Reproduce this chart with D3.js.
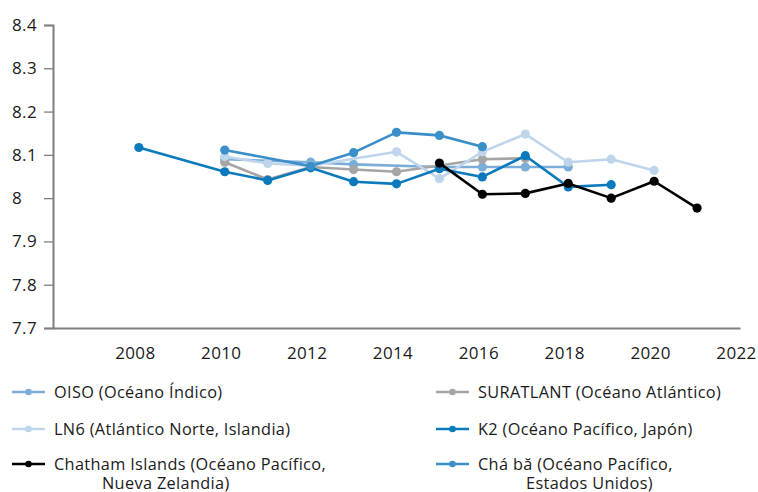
<!DOCTYPE html>
<html>
<head>
<meta charset="utf-8">
<script src="https://cdn.jsdelivr.net/npm/d3@7"></script>
<style>
  html, body { margin: 0; padding: 0; background: #fff; }
  svg { display: block; }
  text { font-family: "Open Sans", "Noto Sans", sans-serif; fill: #1a1a1a; letter-spacing: 0.35px; }
</style>
</head>
<body>
<svg id="chart" width="758" height="492"></svg>
<script>
// pH time series by monitoring station
const years = [2008, 2010, 2011, 2012, 2013, 2014, 2015, 2016, 2017, 2018, 2019, 2020, 2021];
const yTicks = [7.7, 7.8, 7.9, 8.0, 8.1, 8.2, 8.3, 8.4];
const xTicks = [2008, 2010, 2012, 2014, 2016, 2018, 2020, 2022];

// values aligned with `years`; null = no measurement
const oiso      = [null, 8.090, null,  8.083, 8.078, null,  8.072, 8.072, 8.072, 8.072, null,  null,  null];
const suratlant = [null, 8.083, 8.043, 8.072, 8.066, 8.061, null,  8.090, 8.092, null,  null,  null,  null];
const ln6       = [null, 8.096, 8.080, 8.075, null,  8.107, 8.045, 8.107, 8.148, 8.083, 8.090, 8.064, null];
const k2        = [8.117, 8.061, 8.041, 8.070, 8.038, 8.033, 8.068, 8.049, 8.098, 8.026, 8.031, null, null];
const chatham   = [null, null,  null,  null,  null,  null,  8.081, 8.009, 8.011, 8.034, 8.000, 8.039, 7.977];
const chaba     = [null, 8.111, null,  8.074, 8.105, 8.152, 8.145, 8.119, null,  null,  null,  null,  null];

const seriesNames = [
  ["OISO (Océano Índico)"],
  ["SURATLANT (Océano Atlántico)"],
  ["LN6 (Atlántico Norte, Islandia)"],
  ["K2 (Océano Pacífico, Japón)"],
  ["Chatham Islands (Océano Pacífico,", "Nueva Zelandia)"],
  ["Chá bă (Océano Pacífico,", "Estados Unidos)"]
];
const seriesValues = [oiso, suratlant, ln6, k2, chatham, chaba];
const seriesColors = ["#7badd9", "#a5a5a5", "#bfd5ec", "#0a7abd", "#000000", "#3b8fc8"];

const svg = d3.select("#chart");

const x = d3.scaleLinear().domain([2006, 2022]).range([53, 740]);
const y = d3.scaleLinear().domain([7.7, 8.4]).range([328, 25]);

// y axis
const yAxis = svg.append("g").attr("transform", "translate(53,0)")
  .call(d3.axisLeft(y).tickValues(yTicks).tickSize(9).tickPadding(0)
    .tickFormat(d => d3.format("~g")(d)));
yAxis.select(".domain").attr("stroke", "#7f7f7f").attr("stroke-width", 2);
yAxis.selectAll(".tick line").attr("stroke", "#7f7f7f").attr("stroke-width", 1.3);
yAxis.selectAll(".tick text")
  .attr("x", -41).attr("text-anchor", "start")
  .style("font-size", "17px").attr("fill", "#1a1a1a");

// x axis
const xAxis = svg.append("g").attr("transform", "translate(0,328)")
  .call(d3.axisBottom(x).tickValues(xTicks).tickSize(0).tickPadding(19)
    .tickFormat(d3.format("d")));
xAxis.select(".domain").attr("stroke", "#7f7f7f").attr("stroke-width", 2);
xAxis.selectAll(".tick text")
  .attr("dx", -4)
  .style("font-size", "17px").attr("fill", "#1a1a1a");

// series lines and markers
const line = d3.line()
  .defined(d => d.v !== null)
  .x(d => x(d.year))
  .y(d => y(d.v));

seriesValues.forEach((vals, i) => {
  const pts = years.map((yr, j) => ({ year: yr, v: vals[j] })).filter(d => d.v !== null);
  const g = svg.append("g");
  g.append("path")
    .datum(pts)
    .attr("fill", "none")
    .attr("stroke", seriesColors[i])
    .attr("stroke-width", 2.6)
    .attr("stroke-linejoin", "round")
    .attr("d", line);
  g.selectAll("circle").data(pts).join("circle")
    .attr("cx", d => x(d.year))
    .attr("cy", d => y(d.v))
    .attr("r", 4.6)
    .attr("fill", seriesColors[i]);
});

// legend, two columns
const legendCols = [12, 436];
const legendRows = [392, 429, 464];
seriesNames.forEach((lines, i) => {
  const col = i % 2, row = Math.floor(i / 2);
  const lx = legendCols[col], ly = legendRows[row];
  const g = svg.append("g").attr("transform", `translate(${lx},${ly})`);
  g.append("line").attr("x1", 0).attr("x2", 33).attr("y1", 0).attr("y2", 0)
    .attr("stroke", seriesColors[i]).attr("stroke-width", 2.6);
  g.append("circle").attr("cx", 16.5).attr("cy", 0).attr("r", 3.3).attr("fill", seriesColors[i]);
  lines.forEach((t, k) => {
    g.append("text")
      .attr("x", k === 0 ? 42 : 90)
      .attr("y", k * 19 + 5.5)
      .style("font-size", "16.3px")
      .text(t);
  });
});
</script>
</body>
</html>
